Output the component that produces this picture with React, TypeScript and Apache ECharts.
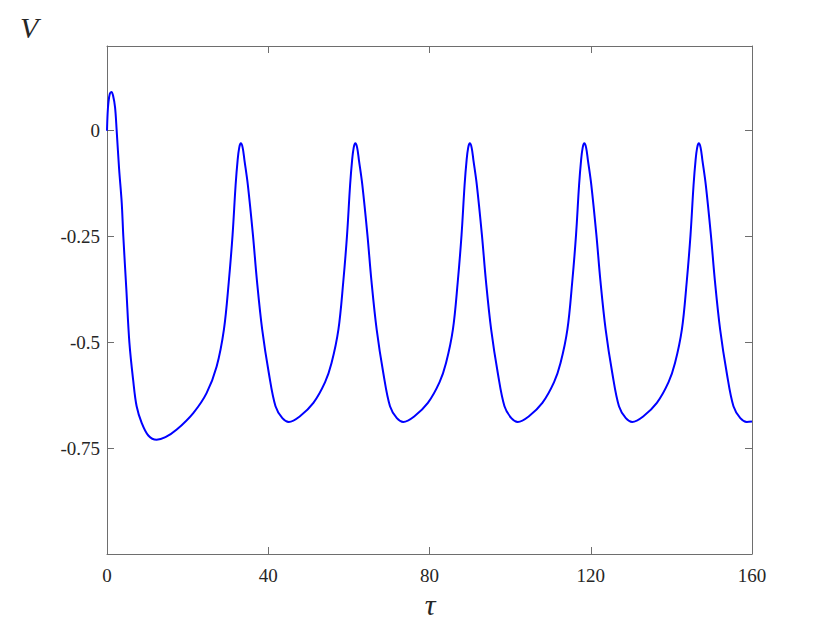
import React, { useEffect, useRef } from "react";
import * as echarts from "echarts";

// Time (tau) values and membrane variable V
const tauValues: number[] = [
  0, 0.15, 0.35, 0.7, 1.1, 1.5, 2.0, 2.4, 3.0, 3.65, 4.05, 4.8, 5.55, 6.5, 7.35, 8.6, 10.25, 12.3, 14.5, 17.3, 21.4, 24.7, 27.2, 29.0, 30.2, 31.15, 31.9, 32.4, 32.8,
  33.2, 33.65, 34.1, 34.95, 36.2, 37.2, 38.5, 40.15, 41.8, 43.5, 45.1,
  47.8, 51.2, 54.1, 55.7, 57.4, 58.6, 59.55, 60.3, 60.8, 61.2,
  61.6, 62.05, 62.5, 63.35, 64.6, 65.6, 66.9, 68.55, 70.2, 71.9, 73.5,
  76.2, 79.6, 82.5, 84.1, 85.8, 87.0, 87.95, 88.7, 89.2, 89.6,
  90.0, 90.45, 90.9, 91.75, 93.0, 94.0, 95.3, 96.95, 98.6, 100.3, 101.9,
  104.6, 108.0, 110.9, 112.5, 114.2, 115.4, 116.35, 117.1, 117.6, 118.0,
  118.4, 118.85, 119.3, 120.15, 121.4, 122.4, 123.7, 125.35, 127.0, 128.7, 130.3,
  133.0, 136.4, 139.3, 140.9, 142.6, 143.8, 144.75, 145.5, 146.0, 146.4,
  146.8, 147.25, 147.7, 148.55, 149.8, 150.8, 152.1, 153.75, 155.4, 157.1, 158.7, 160,
];

const vValues: number[] = [
  0, 0.04, 0.066, 0.087, 0.0915, 0.083, 0.055, 0.0, -0.09, -0.17, -0.25, -0.375, -0.5, -0.59, -0.651, -0.69, -0.72, -0.73, -0.724, -0.706, -0.667, -0.62, -0.557, -0.47, -0.358, -0.246, -0.129, -0.07, -0.04,
  -0.03, -0.04, -0.07, -0.129, -0.246, -0.355, -0.47, -0.573, -0.651, -0.679, -0.688,
  -0.675, -0.643, -0.594, -0.549, -0.47, -0.358, -0.246, -0.129, -0.07, -0.04,
  -0.03, -0.04, -0.07, -0.129, -0.246, -0.355, -0.47, -0.573, -0.651, -0.679, -0.688,
  -0.675, -0.643, -0.594, -0.549, -0.47, -0.358, -0.246, -0.129, -0.07, -0.04,
  -0.03, -0.04, -0.07, -0.129, -0.246, -0.355, -0.47, -0.573, -0.651, -0.679, -0.688,
  -0.675, -0.643, -0.594, -0.549, -0.47, -0.358, -0.246, -0.129, -0.07, -0.04,
  -0.03, -0.04, -0.07, -0.129, -0.246, -0.355, -0.47, -0.573, -0.651, -0.679, -0.688,
  -0.675, -0.643, -0.594, -0.549, -0.47, -0.358, -0.246, -0.129, -0.07, -0.04,
  -0.03, -0.04, -0.07, -0.129, -0.246, -0.355, -0.47, -0.573, -0.651, -0.679, -0.688, -0.687,
];

const xTicks: number[] = [0, 40, 80, 120, 160];
const yTickLabels: Record<string, string> = {
  "0": "0",
  "-0.25": "-0.25",
  "-0.5": "-0.5",
  "-0.75": "-0.75",
};

const FONT = "'Liberation Serif', 'DejaVu Serif', serif";
const AXIS_COLOR = "#6e6e6e";

export default function App() {
  const ref = useRef<HTMLDivElement>(null);

  useEffect(() => {
    if (!ref.current) return;
    const chart = echarts.init(ref.current, undefined, { renderer: "svg" });
    const data = tauValues.map((t, i) => [t, vValues[i]]);

    const axisCommon = {
      axisLine: { show: true, onZero: false, lineStyle: { color: AXIS_COLOR, width: 1 } },
      axisTick: { show: true, inside: true, length: 7, lineStyle: { color: AXIS_COLOR, width: 1 } },
      splitLine: { show: false },
    };

    chart.setOption({
      animation: false,
      backgroundColor: "#ffffff",
      grid: { left: 107, right: 78, top: 46, bottom: 69, containLabel: false },
      xAxis: [
        {
          type: "value",
          min: 0,
          max: 160,
          interval: 40,
          position: "bottom",
          ...axisCommon,
          axisLabel: {
            show: true,
            margin: 12,
            color: "#262626",
            fontFamily: FONT,
            fontSize: 19,
            formatter: (v: number) => (xTicks.includes(v) ? String(v) : ""),
          },
        },
        {
          type: "value",
          min: 0,
          max: 160,
          interval: 40,
          position: "top",
          ...axisCommon,
          axisLabel: { show: false },
        },
      ],
      yAxis: [
        {
          type: "value",
          min: -1,
          max: 0.2,
          interval: 0.25,
          position: "left",
          ...axisCommon,
          axisLabel: {
            show: true,
            margin: 7,
            color: "#262626",
            fontFamily: FONT,
            fontSize: 19,
            showMaxLabel: false,
            formatter: (v: number) => {
              const key = String(Math.round(v * 100) / 100);
              return yTickLabels[key] ?? "";
            },
          },
        },
        {
          type: "value",
          min: -1,
          max: 0.2,
          interval: 0.25,
          position: "right",
          ...axisCommon,
          axisLabel: { show: false },
        },
      ],
      series: [
        {
          type: "line",
          data,
          xAxisIndex: 0,
          yAxisIndex: 0,
          showSymbol: false,
          smooth: 0.35,
          lineStyle: { color: "#0000ff", width: 2 },
          clip: true,
        },
      ],
      graphic: [
        {
          type: "text",
          left: 20,
          top: 12,
          style: {
            text: "V",
            font: `italic 30px ${FONT}`,
            fill: "#262626",
          },
        },
        {
          type: "text",
          x: 430,
          y: 604,
          style: {
            text: "τ",
            font: `italic 30px ${FONT}`,
            fill: "#262626",
            textAlign: "center",
            textVerticalAlign: "middle",
          },
        },
      ],
    });

    return () => chart.dispose();
  }, []);

  return (
    <div
      ref={ref}
      style={{ position: "fixed", left: 0, top: 0, width: 830, height: 623 }}
    />
  );
}
